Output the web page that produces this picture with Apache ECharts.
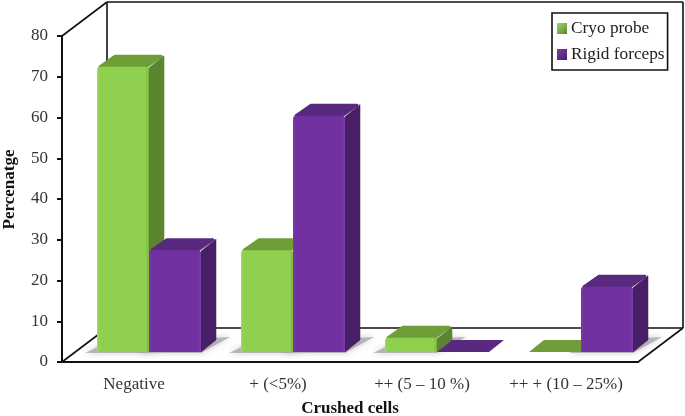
<!DOCTYPE html>
<html><head><meta charset="utf-8">
<style>html,body{margin:0;padding:0;background:#fff}#c{width:685px;height:416px;filter:blur(0.35px)}</style>
<script src="https://cdn.jsdelivr.net/npm/echarts@6/dist/echarts.min.js"></script></head>
<body><div id="c"></div>
<script>
const categories = ['Negative', '+ (<5%)', '++ (5 – 10 %)', '++ + (10 – 25%)'];
const cryoProbe = [70, 25, 3.5, 0];
const rigidForceps = [25, 58, 0, 16];
const yTicks = {min: 0, max: 80, interval: 10};

const FONT = '"Liberation Serif","Times New Roman",serif';
const DEPTH = [45, -34];      // full chart depth on screen
const BAR_OFF = [15, -10];    // bar front plane relative to axis plane
const BAR_D = [15, -12];      // bar depth
const BAR_W = 0.361;          // bar width in category widths

const pal = {
  green: {edgeL:'#9ddc5c', front:'#8fd14f', edgeR:'#79b53e', top:'#6f9e38', side:'#5c8530'},
  purple:{edgeL:'#7b3bab', front:'#7030a0', edgeR:'#7a39aa', top:'#59287f', side:'#461f66'}
};

function frameItem(params, api){
  const c = params.coordSys, x0=c.x, x1=c.x+c.width, y0=c.y, y1=c.y+c.height;
  const dx=DEPTH[0], dy=DEPTH[1];
  const seg=(a,b,cc,d)=>({type:'line',shape:{x1:a,y1:b,x2:cc,y2:d},style:{stroke:'#111',lineWidth:1.6,fill:null}});
  return {type:'group',children:[
    seg(x0+dx,y0+dy,x1+dx,y0+dy),
    seg(x0+dx,y0+dy,x0+dx,y1+dy),
    seg(x1+dx,y0+dy,x1+dx,y1+dy),
    seg(x0+dx,y1+dy,x1+dx,y1+dy),
    seg(x0,y0,x0+dx,y0+dy),
    seg(x0,y1,x0+dx,y1+dy),
    seg(x1,y1,x1+dx,y1+dy)
  ]};
}
function barGeom(api, slot){
  const p0=api.coord([api.value(0),0]), p1=api.coord([api.value(0),api.value(1)]);
  const w=api.size([1,0])[0]*BAR_W;
  const x=p0[0]+BAR_OFF[0]+(slot===0?-w:0);
  return {x,w,yb:p0[1]+BAR_OFF[1],yt:p1[1]+BAR_OFF[1],v:api.value(1)};
}
function shadowItem(slot){
  return function(params,api){
    const g=barGeom(api,slot);
    if(g.v<=0) return {type:'group',children:[]};
    const col='rgba(165,165,165,0.75)';
    return {type:'polygon',shape:{points:[
      [g.x-12,g.yb+1],[g.x+g.w,g.yb+1],[g.x+g.w+BAR_D[0]+14,g.yb+BAR_D[1]-3],[g.x+BAR_D[0],g.yb+BAR_D[1]]
    ]},style:{fill:col,shadowBlur:6,shadowColor:col}};
  };
}
function barItem(slot,c){
  return function(params,api){
    const g=barGeom(api,slot), dx=BAR_D[0], dy=BAR_D[1];
    const kids=[];
    const h=g.yb-g.yt;
    const rnd=h>0?3:0, lw=h>0?3:0;
    // top
    kids.push({type:'polygon',shape:{points:[
      [g.x+rnd,g.yt],[g.x+g.w-rnd,g.yt],[g.x+g.w+dx-rnd,g.yt+dy+rnd/2],[g.x+dx+rnd,g.yt+dy+rnd/2]
    ]},style:{fill:c.top,stroke:c.top,lineWidth:lw,lineJoin:'round'}});
    if(h>0){
      // side
      kids.push({type:'polygon',shape:{points:[
        [g.x+g.w,g.yt+1],[g.x+g.w+dx,g.yt+dy+1],[g.x+g.w+dx,g.yb+dy],[g.x+g.w,g.yb]
      ]},style:{fill:c.side,stroke:c.side,lineWidth:0.6,lineJoin:'round'}});
      // front
      kids.push({type:'rect',shape:{x:g.x,y:g.yt,width:g.w,height:h,r:[3,3,0,0]},style:{
        fill:new echarts.graphic.LinearGradient(0,0,1,0,[
          {offset:0,color:c.edgeL},{offset:0.05,color:c.front},{offset:0.93,color:c.front},{offset:1,color:c.edgeR}
        ])}});
    }
    return {type:'group',children:kids};
  };
}
const rows=a=>a.map((v,i)=>[i,v]);
const legendFill=c=>new echarts.graphic.LinearGradient(0,0,1,1,[{offset:0,color:c.edgeL},{offset:1,color:c.side}]);

const chart=echarts.init(document.getElementById('c'),null,{renderer:'canvas'});
chart.setOption({
  animation:false,
  backgroundColor:'#fff',
  textStyle:{fontFamily:FONT},
  grid:{left:62,right:47,top:36,bottom:54,outerBoundsMode:'none'},
  legend:{
    data:['Cryo probe','Rigid forceps'],orient:'vertical',left:552,top:13,icon:'rect',
    borderColor:'#111',borderWidth:1.6,padding:[7,3,7,5],itemWidth:10,itemHeight:11,itemGap:9,
    textStyle:{fontFamily:FONT,fontSize:17.3,color:'#222',padding:[0,0,0,-1]}
  },
  xAxis:{type:'category',data:categories,
    name:'Crushed cells',nameLocation:'middle',nameGap:38,
    nameTextStyle:{fontFamily:FONT,fontSize:17,fontWeight:'bold',color:'#111'},
    axisLine:{lineStyle:{color:'#111',width:2}},
    axisTick:{length:5,lineStyle:{color:'#111',width:2}},
    axisLabel:{fontFamily:FONT,fontSize:17,color:'#333',margin:14,interval:0},
    splitLine:{show:false}},
  yAxis:{type:'value',min:yTicks.min,max:yTicks.max,interval:yTicks.interval,
    name:'Percenatge',nameLocation:'middle',nameGap:44,
    nameTextStyle:{fontFamily:FONT,fontSize:17,fontWeight:'bold',color:'#111',padding:[0,0,0,19]},
    axisLine:{show:true,lineStyle:{color:'#111',width:2}},
    axisTick:{show:true,length:5,lineStyle:{color:'#111',width:2}},
    axisLabel:{fontFamily:FONT,fontSize:17,color:'#333',margin:14},
    splitLine:{show:false}},
  series:[
    {name:'frame',type:'custom',z:1,data:[[0,0]],renderItem:frameItem,silent:true},
    {name:'shadowA',type:'custom',z:2,data:rows(cryoProbe),renderItem:shadowItem(0),silent:true},
    {name:'shadowB',type:'custom',z:2,data:rows(rigidForceps),renderItem:shadowItem(1),silent:true},
    {name:'Cryo probe',type:'custom',z:3,data:rows(cryoProbe),renderItem:barItem(0,pal.green),
      itemStyle:{color:legendFill(pal.green)},encode:{x:0,y:1}},
    {name:'Rigid forceps',type:'custom',z:4,data:rows(rigidForceps),renderItem:barItem(1,pal.purple),
      itemStyle:{color:legendFill(pal.purple)},encode:{x:0,y:1}}
  ]
});
</script></body></html>
